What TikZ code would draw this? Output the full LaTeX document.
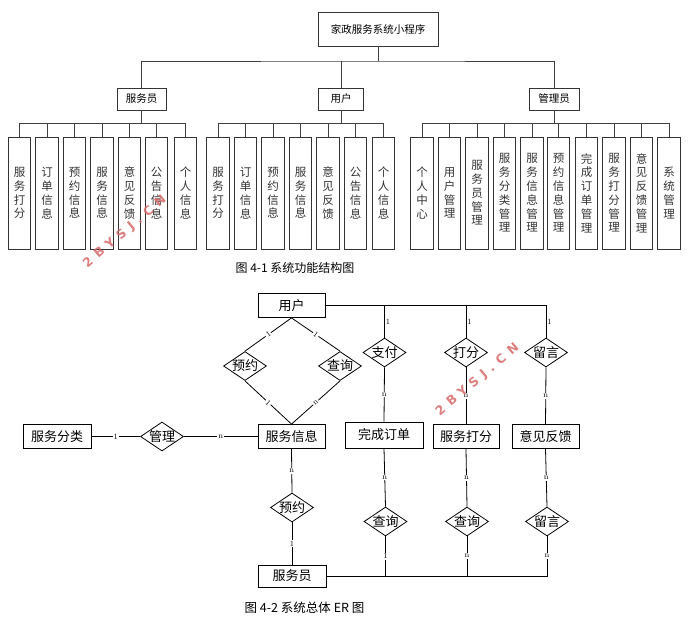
\documentclass[tikz,border=0pt]{standalone}
\usepackage{fontspec}
\usepackage{tikz}
\newfontfamily\cjk{Noto Sans CJK SC}
\newfontfamily\wmfont[LetterSpace=45]{DejaVu Sans}
\usetikzlibrary{shapes.geometric}
\usetikzlibrary{positioning}
\definecolor{wmred}{RGB}{214,104,104}
\tikzset{tree/.style = {draw=black!75, line width=0.7pt},
         box/.style = {draw=black!80, line width=0.7pt, inner sep=0pt,
                       font=\cjk\fontsize{10.5}{12}\selectfont},
         leaf/.style = {draw=black!80, line width=0.7pt, minimum width=22.5pt,
                        minimum height=112pt, inner sep=0pt, align=center,
                        text=black!80, font=\cjk\fontsize{11.5}{13.8}\selectfont},
         entity/.style = {draw, line width=0.8pt, minimum height=24pt, inner sep=0pt,
                          font=\cjk\fontsize{13}{14}\selectfont},
         rel/.style = {diamond, draw, line width=0.8pt, minimum width=43pt,
                       minimum height=29pt, inner sep=0pt,
                       label={[font=\cjk\fontsize{13}{14}\selectfont]center:#1}},
         card/.style = {font=\fontsize{8}{9}\selectfont, fill=white, inner sep=1pt},
         wm/.style = {rotate=40, text=wmred, opacity=0.85,
                      font=\wmfont\bfseries\fontsize{12.5}{14}\selectfont}}

\begin{document}
\begin{tikzpicture}[x=1pt, y=-1pt]
    \useasboundingbox (0,0) rectangle (692,627);
    % function structure
    \node [box, minimum width=120pt, minimum height=34pt] (root) at (378,29) {家政服务系统小程序};
    \node [box, minimum width=49pt, minimum height=22pt] (srv) at (141.5,99) {服务员};
    \node [box, minimum width=45pt, minimum height=22pt] (usr) at (341,99) {用户};
    \node [box, minimum width=50pt, minimum height=22pt] (adm) at (554,99) {管理员};
    \coordinate (bus) at (378,61);
    \draw [tree] (root.south) -- (bus);
    \draw [tree] (srv.north) |- (bus) -| (adm.north);
    \draw [tree] (usr.north) -- (usr.north |- bus);
    \foreach \x/\txt [count=\i] in {19.5/{服\\务\\打\\分}, 47/{订\\单\\信\\息},
        74.5/{预\\约\\信\\息}, 102/{服\\务\\信\\息}, 129.5/{意\\见\\反\\馈},
        156.5/{公\\告\\信\\息}, 185.5/{个\\人\\信\\息}}{
      \node [leaf] (s\i) at (\x,193) {\txt};
      \draw [tree] (srv.south) -- ++(0,13) -| (s\i.north);
    }
    \foreach \x/\txt [count=\i] in {218/{服\\务\\打\\分}, 245.5/{订\\单\\信\\息},
        273/{预\\约\\信\\息}, 300.5/{服\\务\\信\\息}, 328/{意\\见\\反\\馈},
        355.5/{公\\告\\信\\息}, 383.5/{个\\人\\信\\息}}{
      \node [leaf] (u\i) at (\x,193) {\txt};
      \draw [tree] (usr.south) -- ++(0,13) -| (u\i.north);
    }
    \foreach \x/\txt [count=\i] in {422/{个\\人\\中\\心}, 449.5/{用\\户\\管\\理},
        477/{服\\务\\员\\管\\理}, 504.5/{服\\务\\分\\类\\管\\理},
        532/{服\\务\\信\\息\\管\\理}, 558.5/{预\\约\\信\\息\\管\\理},
        586.5/{完\\成\\订\\单\\管\\理}, 614/{服\\务\\打\\分\\管\\理},
        641.5/{意\\见\\反\\馈\\管\\理}, 669/{系\\统\\管\\理}}{
      \node [leaf] (a\i) at (\x,193) {\txt};
      \draw [tree] (adm.south) -- ++(0,13) -| (a\i.north);
    }
    \node [font=\cjk\fontsize{12}{14}\selectfont] (cap1) at (295,268) {图 4-1 系统功能结构图};

    % ER diagram
    \node [entity, minimum width=67pt] (yonghu) at (291.5,305.5) {用户};
    \node [entity, minimum width=67pt] (fwxx) at (291.5,436.5) {服务信息};
    \node [entity, minimum width=68pt] (fwfl) at (57,436.5) {服务分类};
    \node [entity, minimum width=78pt, minimum height=26pt] (wcdd) at (384,435) {完成订单};
    \node [entity, minimum width=66pt] (fwdf) at (466,436.5) {服务打分};
    \node [entity, minimum width=67pt] (yjfk) at (545.5,436.5) {意见反馈};
    \node [entity, minimum width=68pt, minimum height=22pt] (fwy) at (292,576) {服务员};

    \node [rel=预约] (yy1) at (245,366) {};
    \node [rel=查询] (cx1) at (340,366) {};
    \node [rel=管理] (gl) at (162,436.5) {};
    \node [rel=支付] (zf) at (384.5,352.5) {};
    \node [rel=打分] (df) at (466,352.5) {};
    \node [rel=留言] (ly1) at (546,352.5) {};
    \node [rel=预约] (yy2) at (292,507.5) {};
    \node [rel=查询] (cx2) at (385.5,521.5) {};
    \node [rel=查询] (cx3) at (467,521.5) {};
    \node [rel=留言] (ly2) at (547,521.5) {};

    \draw [line width=0.8pt] (yonghu.south) -- (yy1.north) node [card, midway, sloped] {1};
    \draw [line width=0.8pt] (yy1.south) -- (fwxx.north) node [card, midway, sloped] {1};
    \draw [line width=0.8pt] (yonghu.south) -- (cx1.north) node [card, midway, sloped] {1};
    \draw [line width=0.8pt] (cx1.south) -- (fwxx.north) node [card, midway, sloped] {n};
    \draw [line width=0.8pt] (fwfl.east) -- (gl.west) node [card, midway] {1};
    \draw [line width=0.8pt] (gl.east) -- (fwxx.west) node [card, midway] {n};
    \draw [line width=0.8pt] (yonghu.east) -| (zf.north) node [card, pos=0.75, right, fill=none] {1};
    \draw [line width=0.8pt] (yonghu.east) -| (df.north) node [card, pos=0.75, right, fill=none] {1};
    \draw [line width=0.8pt] (yonghu.east) -| (ly1.north) node [card, pos=0.75, right, fill=none] {1};
    \draw [line width=0.8pt] (zf.south) -- (wcdd.north) node [card, midway] {n};
    \draw [line width=0.8pt] (df.south) -- (fwdf.north) node [card, midway] {n};
    \draw [line width=0.8pt] (ly1.south) -- (yjfk.north) node [card, midway] {n};
    \draw [line width=0.8pt] (fwxx.south) -- (yy2.north) node [card, midway] {n};
    \draw [line width=0.8pt] (yy2.south) -- (fwy.north) node [card, midway] {1};
    \draw [line width=0.8pt] (wcdd.south) -- (cx2.north) node [card, midway] {n};
    \draw [line width=0.8pt] (fwdf.south) -- (cx3.north) node [card, midway] {n};
    \draw [line width=0.8pt] (yjfk.south) -- (ly2.north) node [card, midway] {n};
    \draw [line width=0.8pt] (fwy.east) -| (cx2.south) node [card, pos=0.75] {1};
    \draw [line width=0.8pt] (fwy.east) -| (cx3.south) node [card, pos=0.75] {n};
    \draw [line width=0.8pt] (fwy.east) -| (ly2.south) node [card, pos=0.75] {n};
    \node [font=\cjk\fontsize{12.5}{14}\selectfont] (cap2) at (304.5,608) {图 4-2 系统总体 ER 图};

    \node [wm] (wm1) at (125,232) {2BYSJ.CN};
    \node [wm] (wm2) at (477.5,380) {2BYSJ.CN};
\end{tikzpicture}
\end{document}
